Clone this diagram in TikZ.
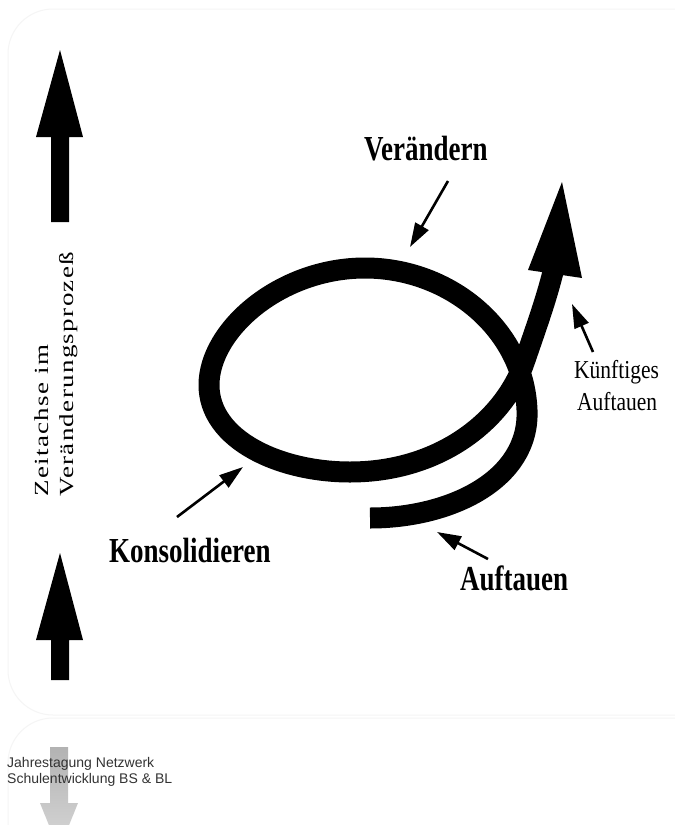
\documentclass[tikz,border=0pt]{standalone}
\usepackage{fontspec}
\setmainfont{Liberation Serif}
\newfontfamily\labelsans{Liberation Sans}
\usetikzlibrary{arrows.meta}
\begin{document}
\begin{tikzpicture}[x=1pt,y=-1pt,
  boldlbl/.style={inner sep=0pt, anchor=base west, font=\fontsize{27}{30}\selectfont\bfseries},
  thinlbl/.style={inner sep=0pt, anchor=base west, font=\fontsize{21.5}{24}\selectfont},
  pointer/.style={line width=2.6pt, -{Triangle[length=24pt,width=15pt]}},
  looppath/.style={line width=21pt, line cap=butt, line join=round},
  panel/.style={draw=black!4, line width=1pt, rounded corners=45pt},
  axisarrow/.style={fill=black}]
\useasboundingbox (0,0) rectangle (675,825);
\begin{scope}
\clip (0,0) rectangle (675,825);
\fill[white] (0,0) rectangle (675,825);
\draw[panel] (8,9) rectangle (720,715);
\draw[panel] (8,718) rectangle (720,900);
% grey arrow at the bottom
\shade[top color=black!30, bottom color=black!15]
  (50,747) -- (68,747) -- (68,803) -- (78,803) -- (59,850) -- (40,803) -- (50,803) -- cycle;
\end{scope}

% time axis arrows
\fill[axisarrow] (60,50) -- (83,137) -- (69,137) -- (69,222) -- (51,222) -- (51,137) -- (36,137) -- cycle;
\fill[axisarrow] (60,553) -- (83,640) -- (69,640) -- (69,680) -- (51,680) -- (51,640) -- (36,640) -- cycle;

\node (axislabel) [rotate=90, anchor=west, inner sep=0pt, align=left,
  font=\fontsize{20}{25}\selectfont\addfontfeature{LetterSpace=5}]
  at (56,497) {\scalebox{1.35}[1]{Zeitachse im}\\\scalebox{1.35}[1]{Veränderungsprozeß}};

% main loop
\draw[looppath] (370,518) .. controls (450,518) and (530,480) .. (527,410)
  .. controls (524,330) and (450,268) .. (365,268)
  .. controls (280,268) and (209,330) .. (209,385)
  .. controls (209,440) and (280,472) .. (350,472)
  .. controls (440,472) and (505,420) .. (525,360)
  .. controls (537,325) and (546,300) .. (553,272);
\fill (562,182) -- (582,278) -- (528,270) -- cycle;

% labels
\node (veraendern) [boldlbl] at (364,160) {\scalebox{1}[1.3]{Verändern}};
\node (konsol) [boldlbl] at (109,562) {\scalebox{1}[1.3]{Konsolidieren}};
\node (auftauen) [boldlbl] at (460,590) {\scalebox{1}[1.3]{Auftauen}};
\node (kuenftig) [thinlbl] at (574,378) {\scalebox{1}[1.2]{Künftiges}};
\node (kuenftig2) [thinlbl] at (577,410) {\scalebox{1}[1.2]{Auftauen}};

\coordinate (vA) at (448,181); \coordinate (vB) at (410,247);
\coordinate (kA) at (593,352); \coordinate (kB) at (572,304);
\coordinate (aA) at (488,559); \coordinate (aB) at (437,532);
\coordinate (cA) at (177,517); \coordinate (cB) at (243,467);
\draw[pointer] (vA) -- (vB);
\draw[pointer] (kA) -- (kB);
\draw[pointer] (aA) -- (aB);
\draw[pointer] (cA) -- (cB);

\node (footer) [anchor=base west, inner sep=0pt, align=left, text=black!80,
  font=\labelsans\fontsize{14}{16}\selectfont] at (7,783)
  {Jahrestagung Netzwerk\\Schulentwicklung BS \& BL};
\end{tikzpicture}
\end{document}
